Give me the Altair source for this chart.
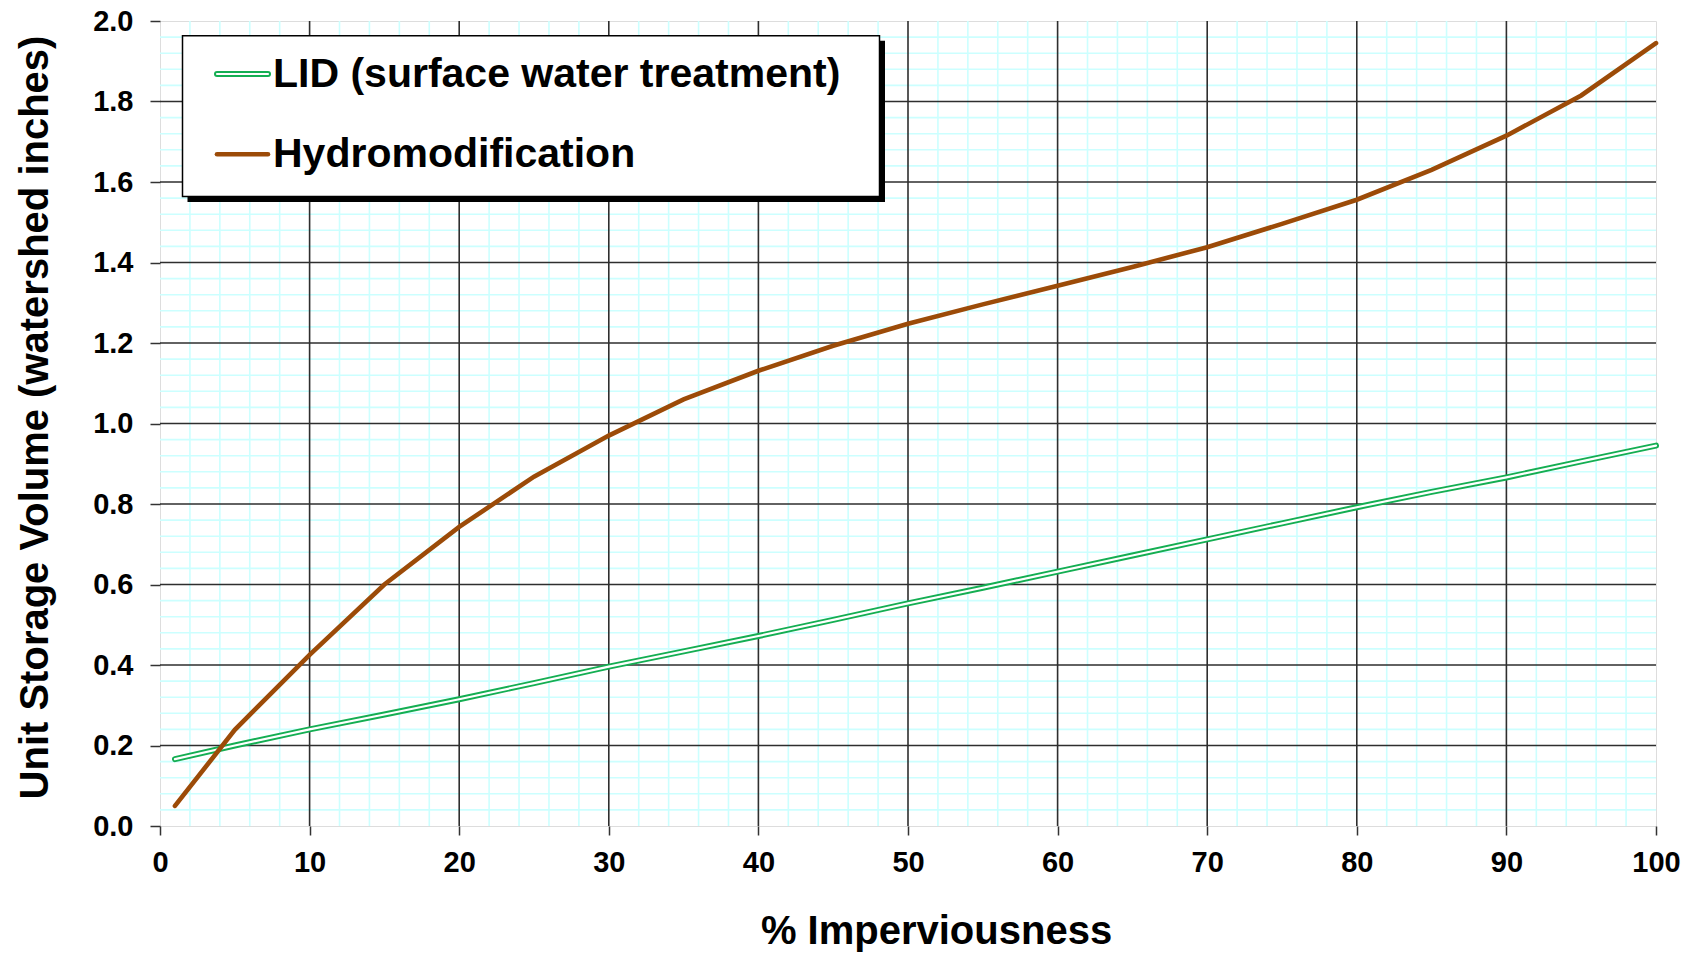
import altair as alt
import pandas as pd

# ---------------- data ----------------
imperv = [1, 5, 10, 15, 20, 25, 30, 35, 40, 45, 50, 55, 60, 65, 70, 75, 80, 85, 90, 95, 100]
lid = [0.166, 0.200, 0.240, 0.277, 0.315, 0.355, 0.396, 0.434, 0.472, 0.512, 0.553,
       0.592, 0.632, 0.672, 0.712, 0.752, 0.792, 0.830, 0.866, 0.906, 0.945]
hydro = [0.050, 0.239, 0.425, 0.600, 0.743, 0.868, 0.970, 1.060, 1.131, 1.193, 1.248,
         1.296, 1.342, 1.389, 1.438, 1.496, 1.556, 1.630, 1.715, 1.815, 1.945]
series_names = ["LID (surface water treatment)", "Hydromodification"]

x_ticks = [0, 10, 20, 30, 40, 50, 60, 70, 80, 90, 100]
y_ticks = [0.0, 0.2, 0.4, 0.6, 0.8, 1.0, 1.2, 1.4, 1.6, 1.8, 2.0]
x_minor = [v for v in range(0, 101, 2) if v % 10 != 0]
y_minor = [round(v * 0.04, 2) for v in range(0, 51) if v % 5 != 0]

x_title = "% Imperviousness"
y_title = "Unit Storage Volume (watershed inches)"

# ---------------- styling ----------------
FONT = "Liberation Sans"
GREEN = "#14AE52"
BROWN = "#9C4B08"
W, H = 1496, 805

df_lid = pd.DataFrame({"x": imperv, "y": lid})
df_hyd = pd.DataFrame({"x": imperv, "y": hydro})

xs = alt.Scale(domain=[0, 100], nice=False, zero=False)
ys = alt.Scale(domain=[0, 2], nice=False, zero=False)

X_AX = alt.Axis(
    values=x_ticks, grid=False, domain=False, ticks=True, tickSize=9, tickColor="#333",
    tickWidth=1.5, labelFont=FONT, labelFontSize=29, labelFontWeight="bold",
    labelColor="black", labelPadding=13, labelFlush=False, title=x_title, titleFont=FONT,
    titleFontSize=40, titleFontWeight="bold", titleColor="black",
    titleX=776, titleY=117, titleBaseline="alphabetic", titleAlign="center",
    format="d",
)
Y_AX = alt.Axis(
    values=y_ticks, grid=False, domain=False, ticks=True, tickSize=10, tickColor="#333",
    tickWidth=1.5, labelFont=FONT, labelFontSize=29, labelFontWeight="bold",
    labelColor="black", labelPadding=17, labelFlush=False, title=y_title, titleFont=FONT,
    titleFontSize=40, titleFontWeight="bold", titleColor="black",
    titleX=-113, titleY=396, titleBaseline="alphabetic", titleAlign="center",
    titleAngle=-90, format=".1f",
)


def vrules(vals, color, width):
    return alt.Chart(pd.DataFrame({"x": vals})).mark_rule(
        color=color, strokeWidth=width
    ).encode(x=alt.X("x:Q", scale=xs, axis=X_AX))


def hrules(vals, color, width):
    return alt.Chart(pd.DataFrame({"y": vals})).mark_rule(
        color=color, strokeWidth=width
    ).encode(y=alt.Y("y:Q", scale=ys, axis=Y_AX))


minor_v = vrules(x_minor, "#CCFFFF", 1.6)
minor_h = hrules(y_minor, "#CCFFFF", 1.6)
major_v = vrules(x_ticks[1:-1], "#2e2e2e", 1.6)
major_h = hrules(y_ticks[1:-1], "#2e2e2e", 1.6)

enc = dict(
    x=alt.X("x:Q", scale=xs, axis=X_AX),
    y=alt.Y("y:Q", scale=ys, axis=Y_AX),
)
lid_outer = alt.Chart(df_lid).mark_line(color=GREEN, strokeWidth=6, strokeCap="round").encode(**enc)
lid_inner = alt.Chart(df_lid).mark_line(color="white", strokeWidth=2.2, strokeCap="round").encode(**enc)
hyd_line = alt.Chart(df_hyd).mark_line(color=BROWN, strokeWidth=4.6, strokeCap="round").encode(**enc)

# ---------------- legend (decoration) ----------------
one = pd.DataFrame({"a": [0]})
shadow = alt.Chart(one).mark_rect(color="black").encode(
    x=alt.value(27.5), x2=alt.value(725), y=alt.value(19.7), y2=alt.value(181)
)
box = alt.Chart(one).mark_rect(fill="white", stroke="black", strokeWidth=1.5).encode(
    x=alt.value(22.5), x2=alt.value(719.5), y=alt.value(14.7), y2=alt.value(175.5)
)
sym_lid_o = alt.Chart(one).mark_rule(color=GREEN, strokeWidth=6, strokeCap="round").encode(
    x=alt.value(57), x2=alt.value(108), y=alt.value(53)
)
sym_lid_i = alt.Chart(one).mark_rule(color="white", strokeWidth=2.2, strokeCap="round").encode(
    x=alt.value(57), x2=alt.value(108), y=alt.value(53)
)
sym_hyd = alt.Chart(one).mark_rule(color=BROWN, strokeWidth=4.6, strokeCap="round").encode(
    x=alt.value(57), x2=alt.value(108), y=alt.value(133.3)
)
txt_lid = alt.Chart(one).mark_text(
    font=FONT, fontSize=41, fontWeight="bold", color="black", align="left", baseline="alphabetic"
).encode(x=alt.value(113), y=alt.value(66.3), text=alt.value(series_names[0]))
txt_hyd = alt.Chart(one).mark_text(
    font=FONT, fontSize=41, fontWeight="bold", color="black", align="left", baseline="alphabetic"
).encode(x=alt.value(113), y=alt.value(145.7), text=alt.value(series_names[1]))

chart = alt.layer(
    minor_v, minor_h, major_v, major_h, lid_outer, lid_inner, hyd_line,
    shadow, box, sym_lid_o, sym_lid_i, sym_hyd, txt_lid, txt_hyd,
).properties(
    width=W, height=H,
    autosize=alt.AutoSizeParams(type="none"),
    padding={"left": 152, "top": 13, "right": 30, "bottom": 126},
).configure_view(
    stroke="#6a6a6a", strokeWidth=2.5, fill="white"
).configure(background="white")

chart.save("out.html", embed_options={"renderer": "svg", "actions": False})
